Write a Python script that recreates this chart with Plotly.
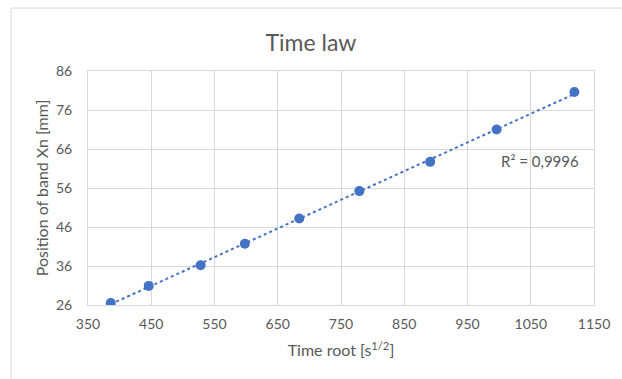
import numpy as np
import plotly.graph_objects as go

time_root = [386, 446, 528, 598, 684, 779, 891, 996, 1119]
position = [26.5, 30.9, 36.2, 41.7, 48.2, 55.2, 62.7, 71.0, 80.6]
x_ticks = [350, 450, 550, 650, 750, 850, 950, 1050, 1150]
y_ticks = [26, 36, 46, 56, 66, 76, 86]

blue = "#4472C4"
grey_text = "#595959"
grid = "#D9D9D9"
font_fam = "Lato, 'Open Sans', sans-serif"

slope, intercept = np.polyfit(time_root, position, 1)
tx = [min(time_root), max(time_root)]
ty = [slope * v + intercept for v in tx]

fig = go.Figure()
fig.add_trace(go.Scatter(x=tx, y=ty, mode="lines",
                         line=dict(color=blue, width=2, dash="dot"),
                         hoverinfo="skip", showlegend=False))
fig.add_trace(go.Scatter(x=time_root, y=position, mode="markers",
                         marker=dict(color=blue, size=10),
                         showlegend=False))

fig.add_annotation(x=1065, y=63, xref="x", yref="y", text="R² = 0,9996",
                   showarrow=False, font=dict(size=15, color=grey_text, family=font_fam))

# chart area border
fig.add_shape(type="rect", xref="paper", yref="paper",
              x0=-0.152, x1=1.06, y0=-0.40, y1=1.269,
              line=dict(color="#D9D9D9", width=1), layer="below")

fig.update_layout(
    width=622, height=379,
    margin=dict(l=88, r=21, t=71, b=74),
    paper_bgcolor="white", plot_bgcolor="white",
    font=dict(family=font_fam, color=grey_text, size=14),
    title=dict(text="Time law", x=0.5, xref="container", xanchor="center",
               y=0.887, yref="container", yanchor="middle",
               font=dict(size=23, color=grey_text, family=font_fam)),
    xaxis=dict(range=[350, 1150], tickvals=x_ticks, ticktext=[str(v) for v in x_ticks],
               showgrid=True, gridcolor=grid, gridwidth=1,
               showline=True, linecolor=grid, linewidth=1, mirror=True,
               zeroline=False, ticks="", ticklabelstandoff=6,
               tickfont=dict(size=14, color=grey_text),
               title=dict(text="Time root [s<sup>1/2</sup>]", standoff=14,
                          font=dict(size=16, color=grey_text))),
    yaxis=dict(range=[26, 86], tickvals=y_ticks, ticktext=[str(v) for v in y_ticks],
               showgrid=True, gridcolor=grid, gridwidth=1,
               showline=True, linecolor=grid, linewidth=1, mirror=True,
               zeroline=False, ticks="", ticklabelstandoff=12,
               tickfont=dict(size=14, color=grey_text),
               title=dict(text="Position of band Xn [mm]", standoff=3,
                          font=dict(size=16, color=grey_text))),
)

fig.write_html("out.html")
